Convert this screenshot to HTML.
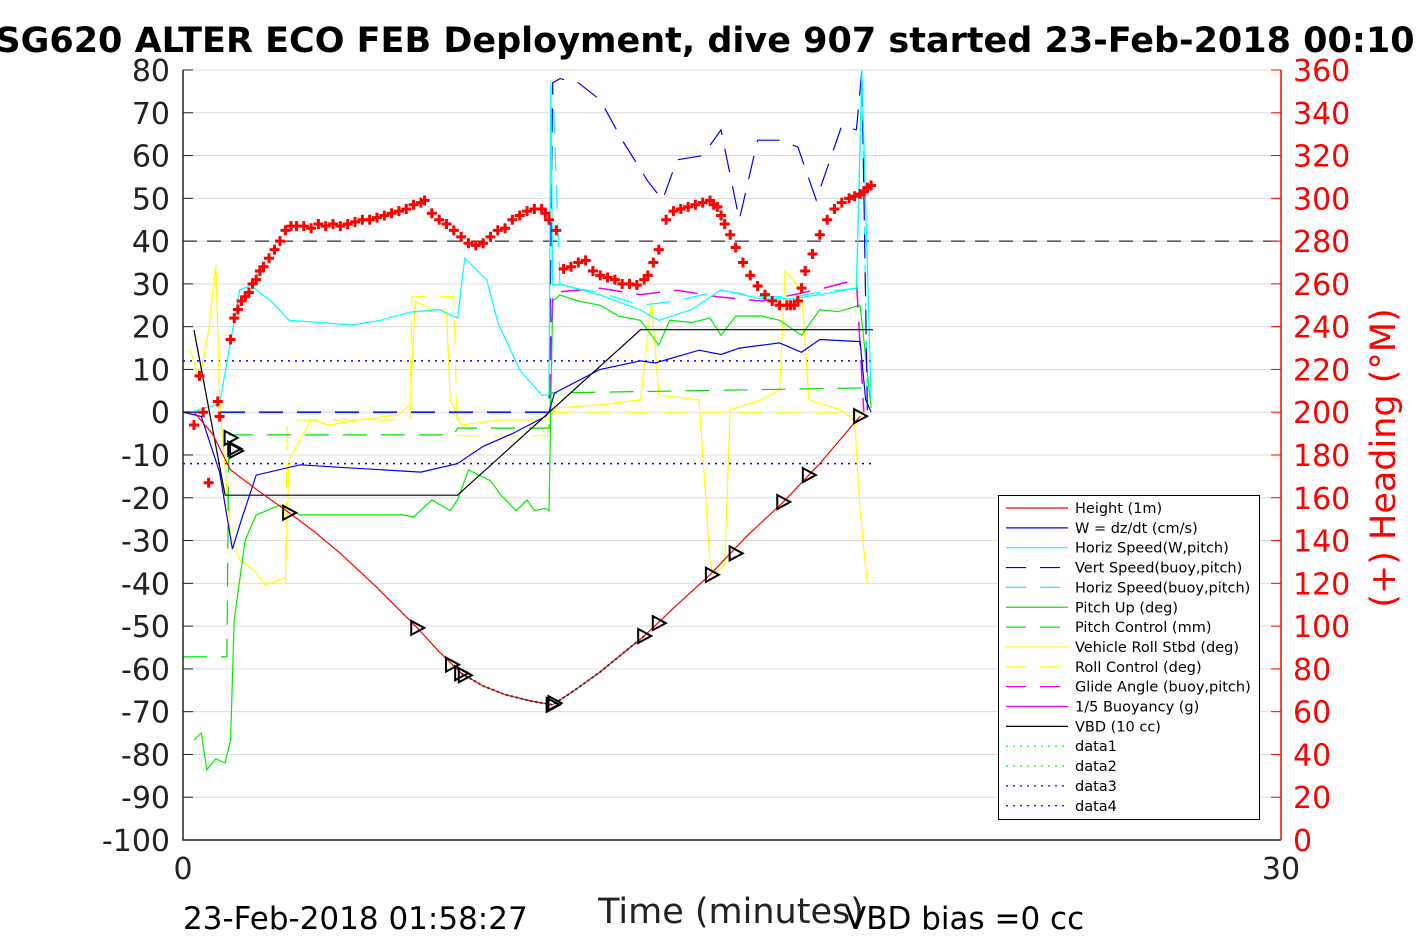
<!DOCTYPE html>
<html><head><meta charset="utf-8"><style>
html,body{margin:0;padding:0;background:#fff;}
svg text{font-family:"DejaVu Sans","Liberation Sans",sans-serif;}
</style></head><body>
<svg id="chart" width="1417" height="945" xmlns="http://www.w3.org/2000/svg">
<rect width="1417" height="945" fill="#fff"/>
<text x="705" y="52" font-size="35" font-weight="bold" text-anchor="middle">SG620 ALTER ECO FEB Deployment, dive 907 started 23-Feb-2018 00:10</text>
<g id="grid"></g><g id="series"></g><g id="axes"></g>
<text x="731" y="923" font-size="35" text-anchor="middle" fill="#222">Time (minutes)</text>
<text x="183" y="929" font-size="31" fill="#000">23-Feb-2018 01:58:27</text>
<text x="845" y="929" font-size="31" fill="#000">VBD bias =0 cc</text>
<text transform="translate(1395,458) rotate(-90)" font-size="35" fill="#f00" text-anchor="middle">(+) Heading (°M)</text>
<g id="legend"></g>
</svg>
<script>
const leftTicks=[80,70,60,50,40,30,20,10,0,-10,-20,-30,-40,-50,-60,-70,-80,-90,-100];
const rightTicks=[360,340,320,300,280,260,240,220,200,180,160,140,120,100,80,60,40,20,0];
const xTicks=[0,30];
const heightT=[0.3,0.8,1.3,2.0,2.9,3.6,4.3,5.3,6.4,7.0,7.6,8.2,8.8,9.5,10.1,10.7,11.4,12.0,12.6,13.5,14.4,15.4,16.4,17.4,18.5];
const heightV=[0,-5,-13.5,-18,-23.5,-28,-33,-41,-50.4,-56,-61,-64,-66,-67.5,-68.4,-65,-60.7,-56.5,-52.3,-45,-38,-29,-21,-12,-0.9];
const headT=[0.3,0.45,0.55,0.7,0.95,1.0,1.3,1.4,1.5,1.6,1.7,1.8,1.9,2.0,2.1,2.2,2.35,2.5,2.65,2.8,2.95,3.1,3.3,3.5,3.7,3.9,4.1,4.3,4.5,4.7,4.9,5.1,5.3,5.5,5.7,5.9,6.1,6.3,6.5,6.6,6.8,7.0,7.2,7.4,7.6,7.8,8.0,8.2,8.4,8.6,8.8,9.0,9.2,9.4,9.6,9.8,9.9,10.0,10.2,10.4,10.6,10.8,11.0,11.2,11.4,11.6,11.8,12.0,12.2,12.4,12.6,12.7,12.85,13.0,13.2,13.4,13.6,13.8,14.0,14.2,14.4,14.5,14.6,14.7,14.8,14.95,15.1,15.3,15.5,15.7,15.9,16.1,16.3,16.5,16.6,16.7,16.8,16.9,17.0,17.2,17.4,17.6,17.8,18.0,18.2,18.35,18.5,18.6,18.7,18.8];
const headV=[194,217,200,167,205,198,234,244,248,252,254,256,260,262,266,268,272,276,280,285,287,287,287,286,288,287,288,287,288,289,290,290,291,292,293,294,295,297,298,299,293,290,288,285,282,279,278,279,282,285,286,290,292,294,295,295,293,290,285,267,268,270,271,266,264,263,262,260,260,259.5,262,264,270,276,290,294,295,296,297,298,299,297,296,292,288,283,277,270,264,259,255,252,250,250,250,250,252,258,266,274,283,290,295,298,300,301,302,303,305,306,301,290];
const wT=[0,0.5,1.0,1.35,1.6,2.0,3.2,4.5,6.5,7.5,8.2,9.0,9.9,10.0,10.15,11.4,12.5,12.9,14.1,14.7,15.2,16.3,16.9,17.4,18.5,18.65,18.8];
const wV=[0,-1,-14,-32,-25,-14.7,-12.3,-13,-14,-12,-8,-5,-1,0,4.5,10,12,11.5,14.5,13.5,15,16.2,14,17,16.5,3,0];
const hsT=[0.2,1.0,1.55,1.85,2.4,2.9,3.7,4.6,5.4,6.2,7.0,7.5,7.7,8.3,8.6,9.2,9.8,10.0,10.05,10.1,10.3,11.4,12.5,13.0,13.9,14.7,15.8,16.6,17.4,18.4,18.55,18.8];
const hsV=[0,2,28.6,29.7,26,21.5,21,20.4,21.5,23.4,24,22,36,30.9,21,9.9,4,4,77,29.7,30,27.4,23.9,21.5,24,28.6,26.5,26.5,27.5,29,80,3];
const vsT=[0,10.0,10.1,10.3,10.8,11.4,12.0,12.7,13.1,13.5,14.2,14.7,15.2,15.7,16.3,16.8,17.3,18.0,18.4,18.55,18.7];
const vsV=[0,0,77,78,77,73,63.6,54,49.6,59,60,66,45,63.6,63.6,62,49.6,67,66,80,0];
const hbT=[0,10.0,10.1,10.3,11.4,12.5,13.5,14.7,15.8,16.6,17.4,18.4,18.55,18.7];
const hbV=[0,0,77,29.5,28,25,26,28.5,27,27,28,29,78,2];
const gaT=[0,10.0,10.1,11.4,12.5,13.5,14.6,15.8,16.7,17.5,18.4,18.6];
const gaV=[0,0,28,29,27.5,28.5,27,26,27.5,29,31,0];
const pitchT=[0.3,0.5,0.65,0.9,1.15,1.3,1.4,1.7,2.0,2.65,3.2,4.6,6.0,6.3,6.8,7.3,7.5,7.8,8.4,8.7,9.1,9.4,9.6,9.9,10.0,10.1,10.3,10.8,11.4,11.9,12.5,13.0,13.3,13.9,14.4,14.7,15.1,15.8,16.3,16.9,17.4,17.9,18.5,18.8];
const pitchV=[-76.6,-75,-83.6,-81,-82,-76.6,-48.6,-29.9,-24,-21.7,-24,-24,-24,-24.5,-20.5,-23,-20.5,-13.5,-16,-19.5,-23,-20.5,-23,-22.5,-23,26,27.4,26,25,22.5,21.5,15.7,21.5,21,22,18,22.5,22.5,21.5,18,24,23.5,25,1];
const pcT=[0,1.2,1.25,7.4,7.5,10.0,10.05,18.8];
const pcV=[-57.2,-57.2,-5.3,-5.3,-3.7,-3.7,4.5,5.7];
const rollT=[0.2,0.45,0.7,0.9,1.0,1.3,1.55,1.95,2.25,2.8,2.9,3.5,4.0,4.8,5.9,6.2,6.35,6.8,7.2,7.3,7.6,8.7,9.97,10.2,11.4,12.5,12.8,13.0,14.1,14.4,14.5,14.8,14.95,15.8,16.3,16.45,16.9,17.1,17.95,18.35,18.5,18.7];
const rollV=[14.5,7.5,19,34.4,3,-29,-34.5,-37,-40.4,-38.7,-11,-1.8,-3,-1.8,-0.6,1.7,26,24,24,2.9,-3,-1.8,-1.8,1,1.7,2.9,26,4,2.9,-35,-38,-35.7,0.6,2.9,5.2,33,28.6,2.9,0.6,-1.8,-23,-40.4];
const rcT=[1.25,1.3,2.8,2.85,6.2,6.25,7.4,7.5,9.95,10.0,18.6];
const rcV=[-40,-40,-40,-1.8,-1.8,27,27,-5.5,-5.5,0,0];
const vbdT=[0.3,1.15,7.5,12.5,18.85];
const vbdV=[19.2,-19.4,-19.4,19.3,19.3];
const triT=[1.3,1.4,1.45,2.9,6.4,7.35,7.6,7.7,10.1,10.15,12.6,13.0,14.45,15.1,16.4,17.1,18.5];
const triV=[-6,-8.5,-9,-23.5,-50.4,-59,-61,-61.5,-68.4,-68,-52.3,-49.3,-38,-33,-21,-14.7,-0.9];
const glide40T=[0,30];const glide40V=[40,40];

const X0=183,X1=1281,Y0=70,Y1=840;
const sx=t=>X0+(t/30)*(X1-X0);
const sy=v=>Y0+(80-v)/180*(Y1-Y0);
const sr=v=>Y1-(v/360)*(Y1-Y0);
const NS="http://www.w3.org/2000/svg";
function mk(tag,parent,attrs){const e=document.createElementNS(NS,tag);for(const k in attrs)e.setAttribute(k,attrs[k]);parent.appendChild(e);return e;}
const grid=document.getElementById('grid'),ser=document.getElementById('series'),ax=document.getElementById('axes'),leg=document.getElementById('legend');

leftTicks.forEach((v,i)=>{
  const l=mk('line',grid,{x1:X0,x2:X1,y1:sy(v),y2:sy(v),stroke:'#dcdcdc','stroke-width':1});
  
  
  const t=mk('text',ax,{x:170,y:sy(v)+11,'font-size':30,'text-anchor':'end',fill:'#222'});t.textContent=v;
  
  
  const tk=mk('line',ax,{x1:X0,x2:X0+10,y1:sy(v),y2:sy(v),stroke:'#222'});
  
  
});
rightTicks.forEach(v=>{
  const t=mk('text',ax,{x:1293,y:sr(v)+11,'font-size':30,fill:'#f00'});t.textContent=v;
  
  
  const tk=mk('line',ax,{x1:X1-10,x2:X1,y1:sr(v),y2:sr(v),stroke:'#f00'});
  
  
});
xTicks.forEach(v=>{
  const t=mk('text',ax,{x:sx(v),y:879,'font-size':30,'text-anchor':'middle',fill:'#222'});t.textContent=v;
  
  
});
const frame=mk('path',ax,{d:`M${X0},${Y0}V${Y1}H${X1}`,fill:'none',stroke:'#222','stroke-width':1.5});


const rax=mk('line',ax,{x1:X1,x2:X1,y1:Y0,y2:Y1,stroke:'#f00','stroke-width':1.5});



function line(T,V,color,dash,name,w){
  const d=T.map((t,i)=>(i?'L':'M')+sx(t).toFixed(1)+','+sy(V[i]).toFixed(1)).join('');
  const p=mk('path',ser,{d:d,fill:'none',stroke:color,'stroke-width':w||1.2,'stroke-dasharray':dash||'none'});
  
  
}
line(glide40T,glide40V,'#000','14,10','reference-line-40',1);
line([0,18.8],[12,12],'#00f','2,5','data3-line',1.5);
line([0,18.8],[-12,-12],'#00f','2,5','data4-line',1.5);
line(rcT,rcV,'#ff0','24,14','roll-control-line');
line(rollT,rollV,'#ff0','','vehicle-roll-line');
line(pcT,pcV,'#0d0','24,14','pitch-control-line');
line(pitchT,pitchV,'#0e0','','pitch-up-line');
line(gaT,gaV,'#e0e','24,14','glide-angle-line',1.5);
line([0,10.0],[0,0],'#8040ff','24,14','glide-angle-zero',2);
line(hbT,hbV,'#0ff','24,14','horiz-speed-buoy-line');
line(vsT,vsV,'#00f','24,14','vert-speed-buoy-line');
line(hsT,hsV,'#0ff','','horiz-speed-w-line');
line(wT,wV,'#00f','','w-line');
line(vbdT,vbdV,'#000','','vbd-line');
line(heightT,heightV,'#f00','','height-line');
line(heightT.slice(10,19),heightV.slice(10,19),'#333','2,3','data1-line',2);

headT.forEach((t,i)=>{
  const x=sx(t),y=sr(headV[i]);
  const m=mk('path',ser,{d:`M${x-5},${y}H${x+5}M${x},${y-5}V${y+5}`,stroke:'#f00','stroke-width':3});
  
  
});
triT.forEach((t,i)=>{
  const x=sx(t),y=sy(triV[i]);
  const m=mk('path',ser,{d:`M${x-6},${y-7}L${x+7},${y}L${x-6},${y+7}Z`,fill:'none',stroke:'#000','stroke-width':2});
  
  
});

const legItems=[['Height (1m)','#f00',''],['W = dz/dt (cm/s)','#00f',''],['Horiz Speed(W,pitch)','#0ff',''],['Vert Speed(buoy,pitch)','#00f','20,14'],['Horiz Speed(buoy,pitch)','#0ff','20,14'],['Pitch Up (deg)','#0e0',''],['Pitch Control (mm)','#0e0','20,14'],['Vehicle Roll Stbd (deg)','#ff0',''],['Roll Control (deg)','#ff0','20,14'],['Glide Angle (buoy,pitch)','#e0e','20,14'],['1/5 Buoyancy (g)','#e0e',''],['VBD (10 cc)','#000',''],['data1','#0e0','2,5'],['data2','#0e0','2,5'],['data3','#00f','2,5'],['data4','#00f','2,5']];
const lb=mk('rect',leg,{x:998.5,y:495.5,width:261,height:324,fill:'#fff',stroke:'#000'});


legItems.forEach((it,i)=>{
  const y=508+i*19.85;
  const l=mk('line',leg,{x1:1006,x2:1068,y1:y,y2:y,stroke:it[1],'stroke-width':1.2,'stroke-dasharray':it[2]||'none'});
  
  
  const t=mk('text',leg,{x:1075,y:y+5,'font-size':14.5,fill:'#000'});t.textContent=it[0];
  
  
});
</script>
</body></html>
